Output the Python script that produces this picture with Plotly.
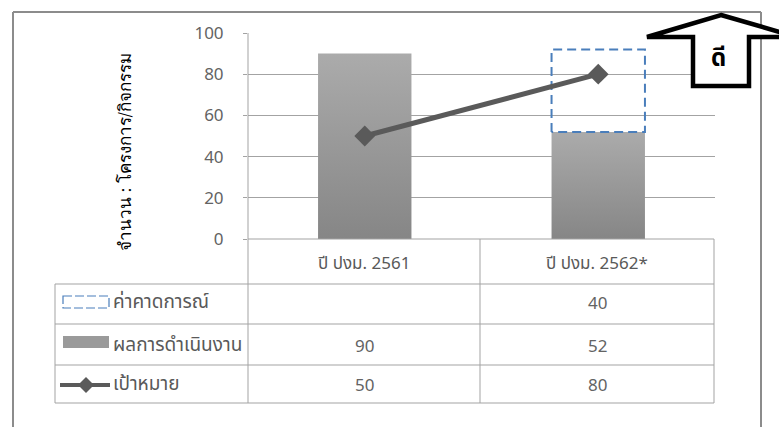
import plotly.graph_objects as go

# ---- data ----
categories = ["ปี ปงม. 2561", "ปี ปงม. 2562*"]
series_names = ["ค่าคาดการณ์", "ผลการดำเนินงาน", "เป้าหมาย"]
forecast = [None, 40]          # ค่าคาดการณ์ (stacked above performance)
performance = [90, 52]         # ผลการดำเนินงาน
target = [50, 80]              # เป้าหมาย
y_ticks = [0, 20, 40, 60, 80, 100]
y_title = "จำนวน : โครงการ/กิจกรรม"
badge_text = "ดี"

W, H = 779, 427
BAR_W = 0.4
FONT = "Noto Sans, Noto Sans Thai, Tahoma, sans-serif"
TXT = "#595959"
NUM = "#636363"
RULE = "#a3a3a3"
COL_X = [364, 597]


def px(x):
    return x / W


def py(y):
    return 1 - y / H


fig = go.Figure()

# bars with a vertical light-to-dark gradient
for i, v in enumerate(performance):
    xs = [i - BAR_W / 2, i - BAR_W / 2, i + BAR_W / 2, i + BAR_W / 2, i - BAR_W / 2]
    ys = [0, v, v, 0, 0]
    fig.add_trace(go.Scatter(
        x=xs, y=ys, mode="lines", fill="toself",
        line=dict(width=0, color="rgba(0,0,0,0)"),
        fillgradient=dict(type="vertical", start=0, stop=v,
                          colorscale=[[0, "#868686"], [1, "#ababab"]]),
        name=series_names[1], showlegend=False, hoverinfo="skip"))

# forecast box stacked on top of the performance bar
for i, f in enumerate(forecast):
    if f is None:
        continue
    b = performance[i]
    xs = [i - BAR_W / 2, i - BAR_W / 2, i + BAR_W / 2, i + BAR_W / 2, i - BAR_W / 2]
    ys = [b, b + f, b + f, b, b]
    fig.add_trace(go.Scatter(
        x=xs, y=ys, mode="lines",
        line=dict(color="#4a7ebb", width=2, dash="9px,5px"),
        name=series_names[0], showlegend=False, hoverinfo="skip"))

# target line
fig.add_trace(go.Scatter(
    x=list(range(len(categories))), y=target, mode="lines+markers",
    line=dict(color="#5a5a5a", width=5),
    marker=dict(symbol="diamond", size=16, color="#5a5a5a"),
    name=series_names[2], showlegend=False))

fig.update_layout(
    width=W, height=H, autosize=False,
    margin=dict(l=0, r=0, t=0, b=0, pad=0),
    paper_bgcolor="white", plot_bgcolor="white",
    showlegend=False,
    xaxis=dict(domain=[px(248), px(715)], range=[-0.5, len(categories) - 0.5],
               showgrid=False, zeroline=False, showticklabels=False,
               showline=False, fixedrange=True, automargin=False),
    yaxis=dict(domain=[py(239), py(33)], range=[0, 100], tickvals=y_ticks,
               showgrid=True, gridcolor=RULE, gridwidth=1, zeroline=False,
               showline=False, ticks="outside", ticklen=4, tickcolor=RULE,
               ticklabelstandoff=16, automargin=False,
               tickfont=dict(family=FONT, size=17, color=NUM), fixedrange=True),
)

shapes = []


def hline(y, x0, x1, color=RULE, width=1):
    shapes.append(dict(type="line", xref="paper", yref="paper",
                       x0=px(x0), x1=px(x1), y0=py(y), y1=py(y),
                       line=dict(color=color, width=width), layer="above"))


def vline(x, y0, y1, color=RULE, width=1):
    shapes.append(dict(type="line", xref="paper", yref="paper",
                       x0=px(x), x1=px(x), y0=py(y0), y1=py(y1),
                       line=dict(color=color, width=width), layer="above"))


# outer chart frame
vline(13, 12, H, color="#8c8c8c", width=2)
vline(761, 12, H, color="#8c8c8c", width=2)
hline(12, 13, 761, color="#8c8c8c", width=2)

# data table grid
vline(248, 33, 403)
vline(480, 239, 403)
vline(714, 239, 403)
vline(55, 284, 403)
hline(239, 248, 714)
for yy in (284, 324, 365, 403):
    hline(yy, 55, 714)

# legend keys inside the table
shapes.append(dict(type="rect", xref="paper", yref="paper",
                   x0=px(63), x1=px(109), y0=py(296), y1=py(308),
                   line=dict(color="#4a7ebb", width=1.2, dash="9px,3px"),
                   fillcolor="rgba(0,0,0,0)", layer="above"))
shapes.append(dict(type="rect", xref="paper", yref="paper",
                   x0=px(63), x1=px(109), y0=py(336), y1=py(348),
                   line=dict(width=0), fillcolor="#9a9a9a", layer="above"))
hline(385, 60, 110, color="#5a5a5a", width=4)
shapes.append(dict(type="path", xref="paper", yref="paper",
                   path="M{},{} L{},{} L{},{} L{},{} Z".format(
                       px(78), py(385), px(86), py(377), px(94), py(385), px(86), py(393)),
                   fillcolor="#5a5a5a", line=dict(width=0), layer="above"))

# "good" direction block arrow
arrow = [(721, 15), (797, 37), (749, 37), (749, 86), (693, 86), (693, 37), (647, 37)]
path = "M " + " L ".join("{},{}".format(px(a), py(b)) for a, b in arrow) + " Z"
shapes.append(dict(type="path", xref="paper", yref="paper", path=path,
                   fillcolor="white", line=dict(color="black", width=4.5),
                   layer="above"))

fig.update_layout(shapes=shapes)


def label(x, y, text, size=15, color=TXT, family=FONT, xanchor="center", **kw):
    return dict(x=px(x), y=py(y), xref="paper", yref="paper", text=text,
                showarrow=False, xanchor=xanchor, yanchor="middle",
                font=dict(family=family, size=size, color=color), **kw)


ann = []
# y-axis title
ann.append(label(125, 152, y_title, size=17, color="black",
                 family="Noto Serif, DejaVu Serif, serif", textangle=-90))
# category header row
for i, c in enumerate(categories):
    ann.append(label(COL_X[i], 262, c, size=17))
# table rows: series label + values
rows = [(series_names[0], forecast, 302),
        (series_names[1], performance, 345),
        (series_names[2], target, 384)]
for name, vals, yy in rows:
    ann.append(label(111, yy - 1, name, size=19, xanchor="left"))
    for i, v in enumerate(vals):
        if v is None:
            continue
        ann.append(label(COL_X[i], yy, str(v), size=17, color=NUM))
# arrow label
ann.append(label(718, 56, "<b>" + badge_text + "</b>", size=24, color="black"))
fig.update_layout(annotations=ann)

fig.write_html("out.html")
